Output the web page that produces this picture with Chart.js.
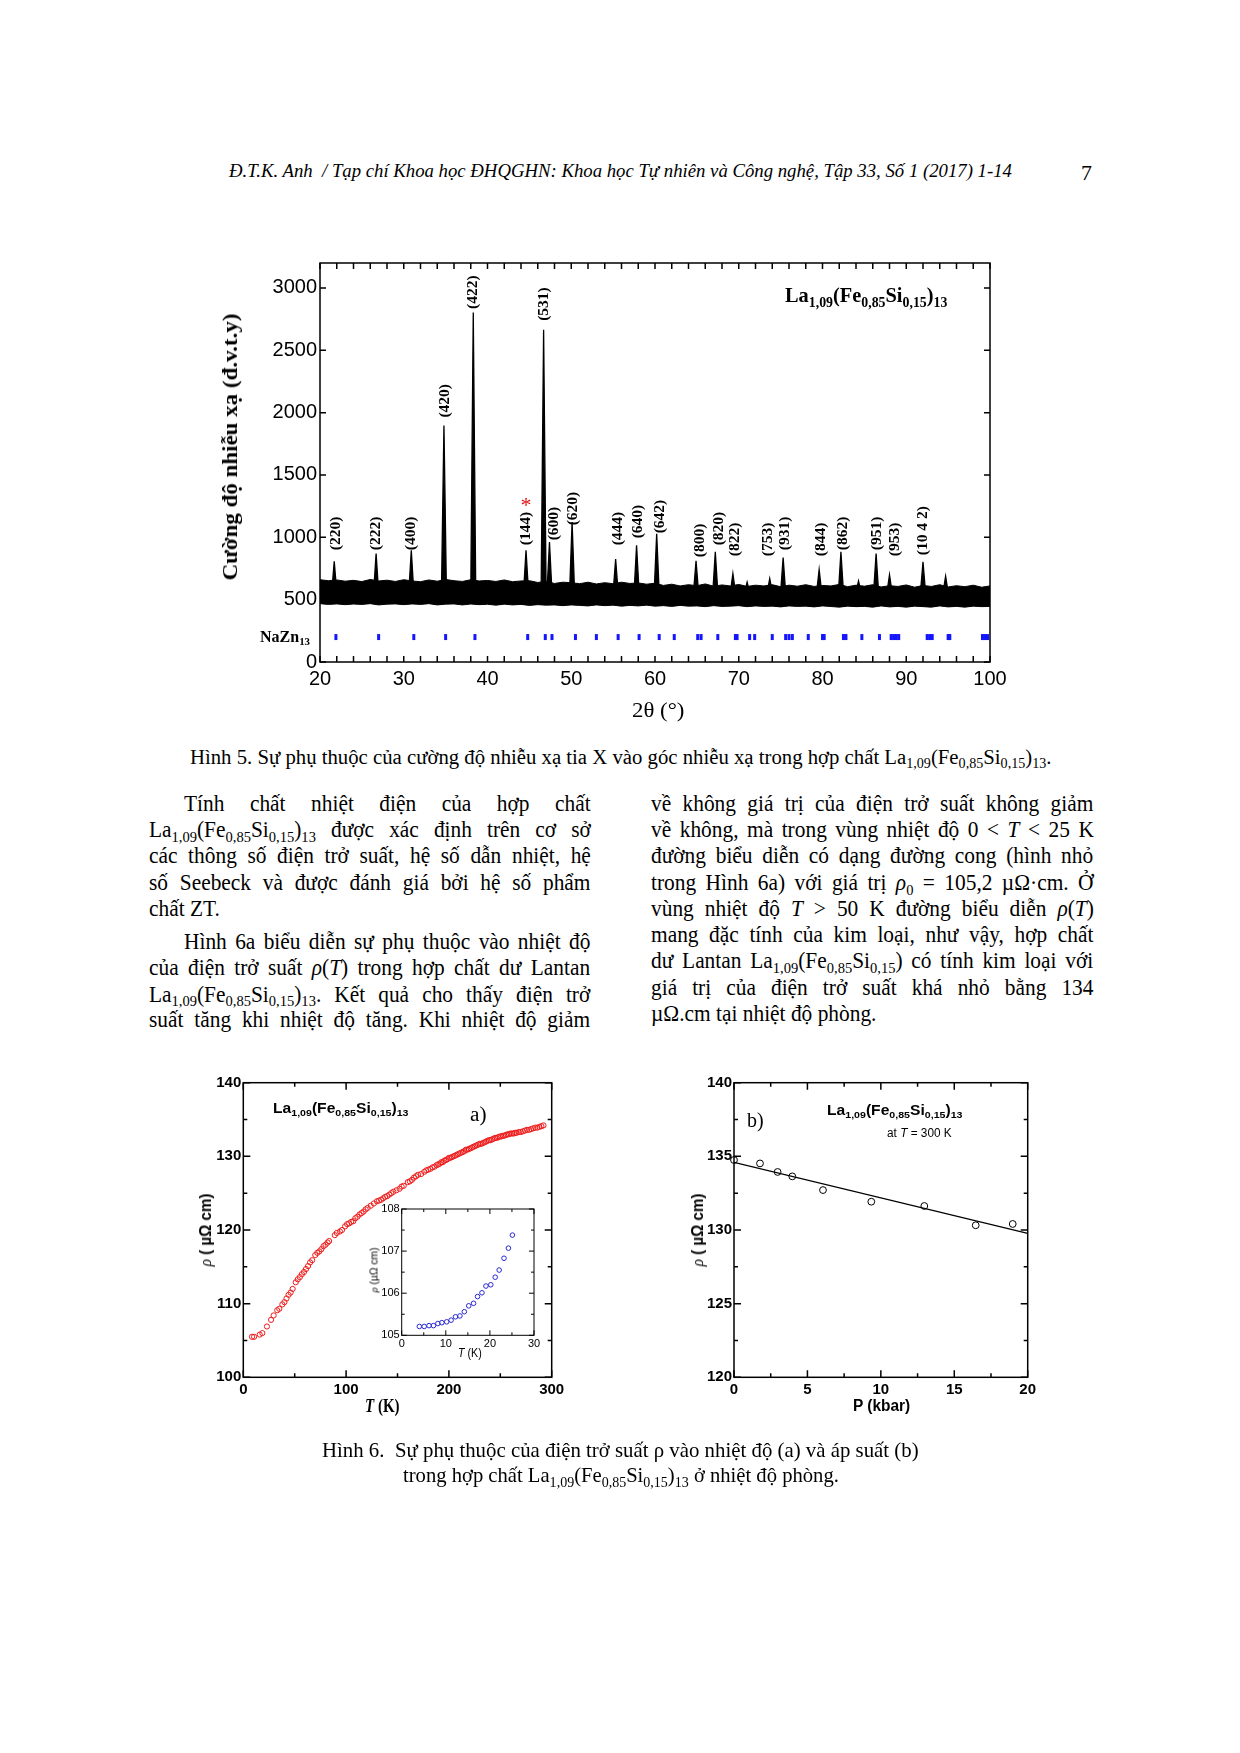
<!DOCTYPE html>
<html><head><meta charset="utf-8">
<script src="https://cdn.jsdelivr.net/npm/chart.js@4.4.1/dist/chart.umd.min.js"></script>
<style>
html,body{margin:0;padding:0;background:#fff;}
#page{position:relative;width:1240px;height:1753px;overflow:hidden;background:#fff;}
.t{position:absolute;white-space:nowrap;color:#000;z-index:5;}
.serif{font-family:'Liberation Serif','Times New Roman',serif;}
.sans{font-family:'Liberation Sans',Arial,sans-serif;}
.rot{transform-origin:50% 50%;}
.cv{position:absolute;}
.b{font-size:23px;line-height:23px;}
sub{font-size:0.68em;vertical-align:baseline;position:relative;top:0.3em;line-height:0;}
</style></head>
<body><div id="page">

<!-- header -->
<div class="t serif" style="left:229px;top:161px;font-size:19px;line-height:19px;font-style:italic" data-w="783">Đ.T.K. Anh&nbsp; / Tạp chí Khoa học ĐHQGHN: Khoa học Tự nhiên và Công nghệ, Tập 33, Số 1 (2017) 1-14</div>
<div class="t serif" style="left:1081px;top:161.5px;font-size:22px;line-height:22px">7</div>

<!-- XRD chart -->
<canvas id="xrd" class="cv" width="820" height="500" style="left:200px;top:240px;width:820px;height:500px"></canvas>
<div class="t serif rot" style="left:230px;top:446.5px;font-size:22px;line-height:22px;font-weight:bold" data-w="267" data-rot="1">Cường độ nhiễu xạ (đ.v.t.y)</div>
<div class="t serif" style="left:632px;top:698.5px;font-size:22px;line-height:22px" data-w="53">2θ (°)</div>
<div class="t serif" style="left:785px;top:285.4px;font-size:21px;line-height:21px;font-weight:bold" data-w="162">La<sub>1,09</sub>(Fe<sub>0,85</sub>Si<sub>0,15</sub>)<sub>13</sub></div>
<div class="t serif" style="left:260px;top:628.6px;font-size:16px;line-height:16px;font-weight:bold" data-w="50">NaZn<sub>13</sub></div>

<!-- caption 5 -->
<div class="t serif" style="left:190px;top:747.2px;font-size:20px;line-height:20px" data-w="861">Hình 5. Sự phụ thuộc của cường độ nhiễu xạ tia X vào góc nhiễu xạ trong hợp chất La<sub>1,09</sub>(Fe<sub>0,85</sub>Si<sub>0,15</sub>)<sub>13</sub>.</div>

<!-- body text left -->
<div class="t serif jl b" style="left:183.5px;top:791.5px" data-w="406.5">Tính chất nhiệt điện của hợp chất</div>
<div class="t serif jl b" style="left:148.5px;top:818.3px" data-w="441.5">La<sub>1,09</sub>(Fe<sub>0,85</sub>Si<sub>0,15</sub>)<sub>13</sub> được xác định trên cơ sở</div>
<div class="t serif jl b" style="left:148.5px;top:844px" data-w="441.5">các thông số điện trở suất, hệ số dẫn nhiệt, hệ</div>
<div class="t serif jl b" style="left:148.5px;top:870.9px" data-w="441.5">số Seebeck và được đánh giá bởi hệ số phẩm</div>
<div class="t serif jl b" style="left:148.5px;top:896.6px" data-last="1">chất ZT.</div>
<div class="t serif jl b" style="left:183.5px;top:930.1px" data-w="406.5">Hình 6a biểu diễn sự phụ thuộc vào nhiệt độ</div>
<div class="t serif jl b" style="left:148.5px;top:955.9px" data-w="441.5">của điện trở suất <i>ρ</i>(<i>T</i>) trong hợp chất dư Lantan</div>
<div class="t serif jl b" style="left:148.5px;top:982.7px" data-w="441.5">La<sub>1,09</sub>(Fe<sub>0,85</sub>Si<sub>0,15</sub>)<sub>13</sub>. Kết quả cho thấy điện trở</div>
<div class="t serif jl b" style="left:148.5px;top:1008.4px" data-w="441.5">suất tăng khi nhiệt độ tăng. Khi nhiệt độ giảm</div>

<!-- body text right -->
<div class="t serif jl b" style="left:650.5px;top:791.5px" data-w="442.5">về không giá trị của điện trở suất không giảm</div>
<div class="t serif jl b" style="left:650.5px;top:818.3px" data-w="442.5">về không, mà trong vùng nhiệt độ 0 &lt; <i>T</i> &lt; 25 K</div>
<div class="t serif jl b" style="left:650.5px;top:844px" data-w="442.5">đường biểu diễn có dạng đường cong (hình nhỏ</div>
<div class="t serif jl b" style="left:650.5px;top:870.9px" data-w="442.5">trong Hình 6a) với giá trị <i>ρ</i><sub>0</sub> = 105,2 µΩ·cm. Ở</div>
<div class="t serif jl b" style="left:650.5px;top:896.6px" data-w="442.5">vùng nhiệt độ <i>T</i> &gt; 50 K đường biểu diễn <i>ρ</i>(<i>T</i>)</div>
<div class="t serif jl b" style="left:650.5px;top:923.4px" data-w="442.5">mang đặc tính của kim loại, như vậy, hợp chất</div>
<div class="t serif jl b" style="left:650.5px;top:949.2px" data-w="442.5">dư Lantan La<sub>1,09</sub>(Fe<sub>0,85</sub>Si<sub>0,15</sub>) có tính kim loại với</div>
<div class="t serif jl b" style="left:650.5px;top:976px" data-w="442.5">giá trị của điện trở suất khá nhỏ bằng 134</div>
<div class="t serif jl b" style="left:650.5px;top:1001.7px" data-last="1">µΩ.cm tại nhiệt độ phòng.</div>

<!-- Figure 6a -->
<canvas id="figA" class="cv" width="400" height="380" style="left:180px;top:1060px;width:400px;height:380px"></canvas>
<canvas id="inset" class="cv" width="190" height="170" style="left:355px;top:1198px;width:190px;height:170px;z-index:2"></canvas>
<div class="t sans" style="left:273px;top:1101.4px;font-size:14px;line-height:14px;font-weight:bold" data-w="135">La<sub>1,09</sub>(Fe<sub>0,85</sub>Si<sub>0,15</sub>)<sub>13</sub></div>
<div class="t serif" style="left:470px;top:1103.9px;font-size:20px;line-height:20px" data-w="17">a)</div>
<div class="t serif" style="left:365px;top:1396.6px;font-size:18px;line-height:18px;font-weight:bold" data-w="35"><i>T</i> (K)</div>
<div class="t sans rot" style="left:206px;top:1230px;font-size:16px;line-height:16px;font-weight:bold" data-w="73" data-rot="1"><span class="serif" style="font-style:italic;font-weight:normal">ρ</span> ( µΩ cm)</div>
<div class="t sans rot" style="left:374px;top:1270px;font-size:11px;line-height:11px" data-w="45" data-rot="1"><span class="serif" style="font-style:italic">ρ</span> (µΩ cm)</div>
<div class="t sans" style="left:458px;top:1346.5px;font-size:12px;line-height:12px" data-w="24"><i>T</i> (K)</div>

<!-- Figure 6b -->
<canvas id="figB" class="cv" width="380" height="380" style="left:670px;top:1060px;width:380px;height:380px"></canvas>
<div class="t serif" style="left:747px;top:1109.9px;font-size:20px;line-height:20px" data-w="17">b)</div>
<div class="t sans" style="left:827px;top:1103.4px;font-size:14px;line-height:14px;font-weight:bold" data-w="135">La<sub>1,09</sub>(Fe<sub>0,85</sub>Si<sub>0,15</sub>)<sub>13</sub></div>
<div class="t sans" style="left:887px;top:1126.5px;font-size:12px;line-height:12px" data-w="65">at <i>T</i> = 300 K</div>
<div class="t sans" style="left:853px;top:1398.1px;font-size:16px;line-height:16px;font-weight:bold" data-w="57">P (kbar)</div>
<div class="t sans rot" style="left:698px;top:1230px;font-size:16px;line-height:16px;font-weight:bold" data-w="73" data-rot="1"><span class="serif" style="font-style:italic;font-weight:normal">ρ</span> ( µΩ cm)</div>

<!-- caption 6 -->
<div class="t serif" style="left:322px;top:1440.4px;font-size:21px;line-height:21px" data-w="597">Hình 6.&nbsp; Sự phụ thuộc của điện trở suất ρ vào nhiệt độ (a) và áp suất (b)</div>
<div class="t serif" style="left:402.5px;top:1465.4px;font-size:21px;line-height:21px" data-w="436">trong hợp chất La<sub>1,09</sub>(Fe<sub>0,85</sub>Si<sub>0,15</sub>)<sub>13</sub> ở nhiệt độ phòng.</div>

</div>
<script>
// ---------------- DATA ----------------
// XRD: noise band envelope (2θ in degrees, intensity)
const bandTheta = [20,21,22,23,24,25,26,27,28,29,30,31,32,33,34,35,36,37,38,39,40,41,42,43,44,45,46,47,48,49,50,51,52,53,54,55,56,57,58,59,60,61,62,63,64,65,66,67,68,69,70,71,72,73,74,75,76,77,78,79,80,81,82,83,84,85,86,87,88,89,90,91,92,93,94,95,96,97,98,99,100];
const bandHigh = [660,652,658,648,655,645,662,650,656,646,
  660,650,644,658,648,662,652,646,660,650,
  654,646,658,644,650,652,638,646,630,640,
  636,628,640,626,636,628,640,630,634,624,
  632,614,624,610,620,612,626,608,618,610,
  622,606,616,610,620,604,616,608,620,606,
  614,610,622,604,616,608,620,602,612,606,
  618,600,614,606,620,602,612,604,616,600,
  610];
const bandLow = [468,462,466,460,465,462,468,458,464,466,
  460,466,462,468,458,464,466,458,465,460,
  463,456,464,458,462,454,460,456,458,452,
  458,454,450,458,452,456,448,454,450,456,
  448,452,446,454,448,450,444,452,446,448,
  452,444,450,446,448,442,450,446,448,442,
  450,445,440,448,444,446,440,450,442,446,
  440,448,444,440,450,442,446,440,448,444,
  446];
// XRD peaks
const peakTheta = [21.7,26.7,30.9,34.8,38.3,44.6,46.7,47.4,50.1,55.3,57.8,60.2,64.9,67.2,69.3,71.0,73.7,75.3,79.6,82.2,84.3,86.4,88.0,92.0,94.7];
const peakCounts = [808,869,896,1896,2803,896,2664,963,1123,825,936,1029,811,883,709,640,669,837,741,883,650,869,700,803,688];
// Miller index labels
const hklText = ['(220)','(222)','(400)','(420)','(422)','(144)','(531)','(600)','(620)','(444)','(640)','(642)','(800)','(820)','(822)','(753)','(931)','(844)','(862)','(951)','(953)','(10 4 2)'];
const hklTheta = [21.9,26.7,30.9,34.9,38.3,44.6,46.7,47.9,50.2,55.6,58.0,60.6,65.4,67.6,69.6,73.5,75.5,79.8,82.5,86.5,88.7,92.0];
const hklCounts = [896,896,896,1960,2832,936,2736,976,1096,936,992,1032,840,936,848,848,896,848,896,896,848,856];
const starTheta = 44.6, starCounts = 1300;
// NaZn13 reflection markers
const nazTheta = [21.9,27.0,31.2,35.0,38.5,44.8,46.9,47.7,50.5,53.0,55.6,58.1,60.5,62.3,65.1,65.5,67.5,69.6,69.8,71.3,71.9,74.0,75.6,76.0,76.4,78.3,80.0,80.2,82.5,82.8,84.7,86.8,88.2,88.5,88.8,89.1,92.5,92.8,93.1,95.0,95.2,99.1,99.4,99.7];
const nazLevel = 200;
// XRD tick values
const xrdXTicks = [20,30,40,50,60,70,80,90,100];
const xrdYTicks = [0,500,1000,1500,2000,2500,3000];

// Fig 6a: resistivity vs temperature
const aT = [8.5,10.5,16,18.5,23,27,29.5,33,35,38,
  40,42,44,46,48,51,53,55,57,59,
  61,63,65,67,70,72,74,76,78,80,
  82,83.5,89,91,94,96,99,101,103,105,
  107,109,111,113,115,117,119,121,124,127,
  130,132,134,136,138,140,142,144,146,149,
  152,154,156,160,162,164,166,168,170,173,
  176,178,180,182,184,186,188,189.5,191,192.5,
  194,195.5,197,198.5,200,201.5,203,204.5,206,207.5,
  209,210.5,212,213.5,215,216.5,218,219.5,221,222.5,
  224,225.5,227,228.5,230,231.5,233,234.5,236,237.5,
  239,240.5,242,243.5,245,246.5,248,249.5,251,252.5,
  254,255.5,257,258.5,260,261.5,263,264.5,266,268,
  270,272,274,276,278,280,282,284,286,288,
  290,292];
const aRho = [105.5,105.5,105.8,106.0,106.9,107.8,108.4,109.1,109.3,109.9,
  110.2,110.7,111.2,111.5,112.0,112.9,113.3,113.6,114.0,114.3,
  114.7,115.1,115.6,115.9,116.6,116.9,117.1,117.4,117.8,118.0,
  118.3,118.5,119.3,119.6,119.8,120.0,120.5,120.8,120.9,121.1,
  121.2,121.6,121.8,122.1,122.3,122.5,122.8,123.0,123.3,123.6,
  123.9,124.0,124.1,124.3,124.5,124.6,124.8,125.0,125.2,125.4,
  125.6,125.9,126.0,126.5,126.6,126.8,127.1,127.3,127.5,127.6,
  127.9,128.1,128.2,128.3,128.5,128.6,128.8,128.9,129.0,129.2,
  129.2,129.4,129.5,129.6,129.8,129.8,129.9,130.0,130.1,130.2,
  130.3,130.4,130.5,130.6,130.7,130.9,130.9,131.0,131.1,131.2,
  131.3,131.4,131.5,131.6,131.7,131.7,131.8,131.9,132.0,132.1,
  132.2,132.2,132.3,132.4,132.5,132.5,132.6,132.7,132.7,132.8,
  132.8,132.9,133.0,133.0,133.1,133.1,133.1,133.2,133.2,133.3,
  133.3,133.4,133.5,133.6,133.6,133.7,133.8,133.9,133.9,134.0,
  134.1,134.2];
const aXTicks = [0,100,200,300];
const aYTicks = [100,110,120,130,140];
// Fig 6a inset: low-temperature resistivity
const insetT = [4.0,5.1,6.2,7.2,8.2,9.1,10.2,11.2,12.2,13.2,14.2,15.2,16.3,17.2,18.2,19.1,20.2,21.2,22.1,23.2,24.2,25.1];
const insetRho = [105.21,105.21,105.23,105.23,105.28,105.30,105.32,105.36,105.44,105.46,105.56,105.70,105.76,105.92,106.01,106.17,106.20,106.38,106.55,106.83,107.07,107.38];
const insetXTicks = [0,10,20,30];
const insetYTicks = [105,106,107,108];
// Fig 6b: resistivity vs pressure
const bP = [0,1.77,2.97,3.97,6.06,9.35,12.96,16.46,18.98];
const bRho = [134.75,134.52,133.94,133.64,132.71,131.92,131.63,130.32,130.41];
const fitP = [0,20];
const fitRho = [134.59,129.77];
const bXTicks = [0,5,10,15,20];
const bYTicks = [120,125,130,135,140];

// ---------------- TEXT FITTING ----------------
const CONDENSE = 0.93;
function fitTexts(){
  document.querySelectorAll('.jl[data-last]').forEach(el=>{
    el.style.transformOrigin='0 50%'; el.style.transform='scaleX('+CONDENSE+')';
  });
  document.querySelectorAll('[data-w]').forEach(el=>{
    const w = parseFloat(el.dataset.w);
    if (el.classList.contains('jl')) {
      el.style.wordSpacing = '0px'; el.style.transform = 'none';
      const nat = el.offsetWidth;
      const n = (el.textContent.match(/ /g)||[]).length;
      el.style.transformOrigin='0 50%';
      if (nat*CONDENSE <= w && n > 0) {
        el.style.wordSpacing = ((w/CONDENSE - nat)/n)+'px';
        el.style.transform='scaleX('+CONDENSE+')';
      } else {
        el.style.transform='scaleX('+(w/nat)+')';
      }
    } else if (el.dataset.rot) {
      const nat = el.offsetWidth;
      el.style.transform = 'translate(-50%,-50%) rotate(-90deg) scaleX('+(w/nat)+')';
    } else {
      const nat = el.offsetWidth;
      el.style.transformOrigin='0 50%'; el.style.transform='scaleX('+(w/nat)+')';
    }
  });
}
fitTexts();
if (document.fonts && document.fonts.ready) document.fonts.ready.then(fitTexts);

// ---------------- CHARTS ----------------
const SERIF = "'Liberation Serif','Times New Roman',serif";
const SANS = "'Liberation Sans',Arial,sans-serif";
Chart.defaults.color = '#000';
Chart.defaults.font.family = SANS;

function isMajor(v, m){ return Math.abs(v/m - Math.round(v/m)) < 1e-6; }

const frameTicks = {
  id: 'frameTicks',
  beforeDraw(chart, args, o){
    if (o.bg) { const a = chart.chartArea, c = chart.ctx; c.save(); c.fillStyle = o.bg; c.fillRect(a.left, a.top, a.right-a.left, a.bottom-a.top); c.restore(); }
  },
  afterDatasetsDraw(chart, args, o){
    const c = chart.ctx, a = chart.chartArea, xs = chart.scales.x, ys = chart.scales.y;
    c.save(); c.strokeStyle = '#000'; c.lineWidth = o.lw; c.beginPath();
    for (let i=0;;i++){ const v = xs.min + i*o.xStep; if (v > xs.max + 1e-9) break;
      const p = xs.getPixelForValue(v); const L = isMajor(v, o.xMajor) ? o.maj : o.min;
      c.moveTo(p, a.bottom); c.lineTo(p, a.bottom - L); c.moveTo(p, a.top); c.lineTo(p, a.top + L); }
    for (let i=0;;i++){ const v = ys.min + i*o.yStep; if (v > ys.max + 1e-9) break;
      const p = ys.getPixelForValue(v); const L = isMajor(v, o.yMajor) ? o.maj : o.min;
      c.moveTo(a.left, p); c.lineTo(a.left + L, p); c.moveTo(a.right, p); c.lineTo(a.right - L, p); }
    c.stroke();
    c.strokeRect(a.left, a.top, a.right-a.left, a.bottom-a.top);
    c.restore();
  }
};

const hklPlugin = {
  id: 'hkl',
  afterDatasetsDraw(chart){
    const c = chart.ctx, xs = chart.scales.x, ys = chart.scales.y;
    c.save();
    c.fillStyle = '#000'; c.font = 'bold 15.5px ' + SERIF; c.textAlign = 'left'; c.textBaseline = 'middle';
    hklText.forEach((t,i)=>{
      c.save(); c.translate(xs.getPixelForValue(hklTheta[i]), ys.getPixelForValue(hklCounts[i]));
      c.rotate(-Math.PI/2); c.fillText(t, 0, 0); c.restore();
    });
    c.fillStyle = '#e01010'; c.font = '22px ' + SERIF; c.textAlign = 'center'; c.textBaseline = 'alphabetic';
    c.fillText('*', xs.getPixelForValue(starTheta), ys.getPixelForValue(starCounts) + 12);
    c.restore();
  }
};

function axis(min, max, tickVals, font, pad, fit, isY){
  return {
    type: 'linear', min: min, max: max,
    grid: { display: false, drawTicks: false }, border: { display: false },
    ticks: { font: font, color: '#000', padding: pad, autoSkip: false, maxRotation: 0, minRotation: 0,
      callback: v => String(v) },
    afterBuildTicks: s => { s.ticks = tickVals.map(v => ({ value: v })); },
    afterFit: s => { if (isY) s.width = fit; else s.height = fit; }
  };
}
const pts = (xs, ys) => xs.map((x,i)=>({x: x, y: ys[i]}));
const base = { responsive: false, animation: false, devicePixelRatio: 1, events: [] };

// XRD
const peakSeries = [];
peakTheta.forEach((p,i)=>{
  peakSeries.push({x: p-0.3, y: 560}, {x: p, y: peakCounts[i]}, {x: p+0.3, y: 560}, {x: p+0.3, y: null});
});
new Chart(document.getElementById('xrd'), {
  type: 'line',
  data: { datasets: [
    { data: pts(bandTheta, bandHigh), borderColor: '#000', borderWidth: 1, pointRadius: 0, fill: '+1', backgroundColor: '#000', tension: 0 },
    { data: pts(bandTheta, bandLow), borderColor: '#000', borderWidth: 1, pointRadius: 0, fill: false, tension: 0 },
    { data: peakSeries, borderColor: '#000', borderWidth: 1.3, pointRadius: 0, fill: { value: 560 }, backgroundColor: '#000', tension: 0, spanGaps: false },
    { data: nazTheta.map(t => ({x: t, y: nazLevel})), showLine: false, pointStyle: 'line', pointRotation: 90, pointRadius: 3, pointBorderWidth: 3, pointBorderColor: '#1414ff', pointBackgroundColor: '#1414ff' }
  ]},
  options: Object.assign({}, base, {
    layout: { padding: { left: 0, right: 30, top: 23, bottom: 0 } },
    scales: {
      x: axis(20, 100, xrdXTicks, { size: 20, family: SANS }, 5, 78, false),
      y: axis(0, 3200, xrdYTicks, { size: 20, family: SANS }, 3, 120, true)
    },
    plugins: { legend: { display: false }, tooltip: { enabled: false },
      frameTicks: { lw: 1.5, xStep: 2, xMajor: 10, yStep: 500, yMajor: 500, maj: 6, min: 6 } }
  }),
  plugins: [frameTicks, hklPlugin]
});

// Fig 6a
new Chart(document.getElementById('figA'), {
  type: 'line',
  data: { datasets: [
    { data: pts(aT, aRho), showLine: false, pointRadius: 2.6, pointBorderWidth: 1, pointBorderColor: '#ee1c1c', pointBackgroundColor: 'rgba(0,0,0,0)' }
  ]},
  options: Object.assign({}, base, {
    layout: { padding: { left: 0, right: 28.3, top: 22.7, bottom: 0 } },
    scales: {
      x: axis(0, 300, aXTicks, { size: 15, weight: 'bold', family: SANS }, 4, 62.7, false),
      y: axis(100, 140, aYTicks, { size: 15, weight: 'bold', family: SANS }, 2, 63.3, true)
    },
    plugins: { legend: { display: false }, tooltip: { enabled: false },
      frameTicks: { lw: 1.5, xStep: 50, xMajor: 100, yStep: 5, yMajor: 10, maj: 7, min: 4 } }
  }),
  plugins: [frameTicks]
});

// Inset
new Chart(document.getElementById('inset'), {
  type: 'line',
  data: { datasets: [
    { data: pts(insetT, insetRho), showLine: false, pointRadius: 2.3, pointBorderWidth: 1, pointBorderColor: '#2a2ad8', pointBackgroundColor: 'rgba(0,0,0,0)' }
  ]},
  options: Object.assign({}, base, {
    layout: { padding: { left: 0, right: 11, top: 11, bottom: 0 } },
    scales: {
      x: axis(0, 30, insetXTicks, { size: 11, family: SANS }, 2, 32.7, false),
      y: axis(105, 108, insetYTicks, { size: 11, family: SANS }, 2, 46.7, true)
    },
    plugins: { legend: { display: false }, tooltip: { enabled: false },
      frameTicks: { lw: 1, xStep: 5, xMajor: 10, yStep: 0.5, yMajor: 1, maj: 5, min: 3, bg: '#fff' } }
  }),
  plugins: [frameTicks]
});

// Fig 6b
new Chart(document.getElementById('figB'), {
  type: 'line',
  data: { datasets: [
    { data: pts(fitP, fitRho), borderColor: '#000', borderWidth: 1.2, pointRadius: 0, fill: false, tension: 0 },
    { data: pts(bP, bRho), showLine: false, pointRadius: 3.4, pointBorderWidth: 1, pointBorderColor: '#000', pointBackgroundColor: '#fff', clip: false }
  ]},
  options: Object.assign({}, base, {
    layout: { padding: { left: 0, right: 22.3, top: 22.7, bottom: 0 } },
    scales: {
      x: axis(0, 20, bXTicks, { size: 15, weight: 'bold', family: SANS }, 4, 62.7, false),
      y: axis(120, 140, bYTicks, { size: 15, weight: 'bold', family: SANS }, 2, 64, true)
    },
    plugins: { legend: { display: false }, tooltip: { enabled: false },
      frameTicks: { lw: 1.5, xStep: 2.5, xMajor: 5, yStep: 2.5, yMajor: 5, maj: 7, min: 4 } }
  }),
  plugins: [frameTicks]
});
</script>
</body></html>
